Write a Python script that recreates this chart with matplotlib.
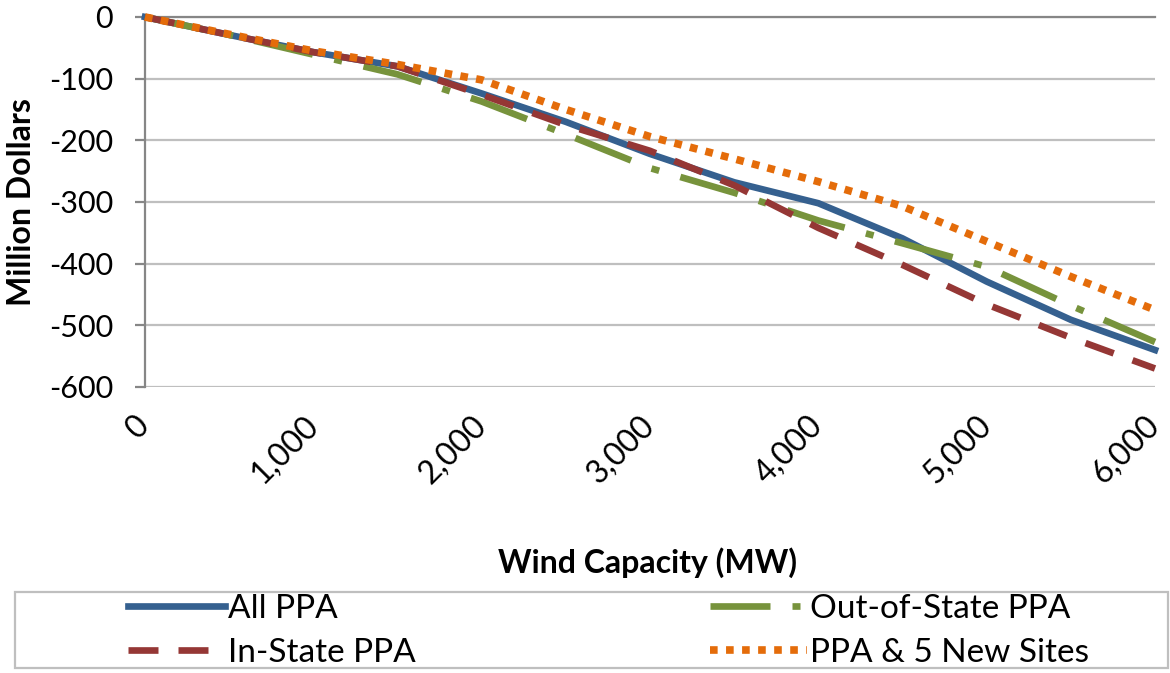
import matplotlib.pyplot as plt
import matplotlib.patches as mpatches
from matplotlib import rcParams
from matplotlib.ticker import FuncFormatter

rcParams['font.family'] = ['Lato', 'DejaVu Sans']
rcParams['axes.unicode_minus'] = False

# data (million dollars vs MW)
capacity = [0, 500, 1000, 1500, 2000, 2500, 3000, 3500, 4000, 4500, 5000, 5500, 6000]
all_ppa = [0, -29, -57, -80, -124, -170, -222, -268, -302, -359, -429, -491, -540]
in_state = [0, -29, -57, -80, -126, -175, -217, -273, -342, -402, -466, -520, -570]
out_state = [0, -29, -61, -93, -137, -190, -245, -285, -330, -367, -405, -468, -527]
new_sites = [0, -28, -55, -77, -102, -150, -194, -230, -267, -307, -364, -421, -475]

x_ticks = [0, 1000, 2000, 3000, 4000, 5000, 6000]
y_ticks = [0, -100, -200, -300, -400, -500, -600]

fig = plt.figure(figsize=(11.7, 6.73), dpi=100)
ax = fig.add_axes([145/1170, 1 - 387/673, 1010/1170, 370/673])

lw = 4.8
ax.plot(capacity, all_ppa, color='#35608F', lw=lw, label='All PPA', clip_on=False, zorder=3)
ax.plot(capacity, out_state, color='#77933C', lw=lw, linestyle=(0, (9, 3.3, 1.2, 3.3)),
        dash_capstyle='butt', label='Out-of-State PPA', clip_on=False, zorder=3)
ax.plot(capacity, in_state, color='#953735', lw=lw, linestyle=(0, (4.5, 3)),
        dash_capstyle='butt', label='In-State PPA', clip_on=False, zorder=3)
ax.plot(capacity, new_sites, color='#E46C0A', lw=5.5, linestyle=(0, (1, 1.1)),
        dash_capstyle='butt', label='PPA & 5 New Sites', clip_on=False, zorder=4)

ax.set_xlim(0, 6000)
ax.set_ylim(-600, 0)
ax.set_yticks(y_ticks)
ax.set_xticks(x_ticks)
ax.xaxis.set_major_formatter(FuncFormatter(lambda v, p: f'{int(v):,}'))

ax.grid(axis='y', color='#BFBFBF', lw=1.6)
ax.set_axisbelow(True)
for s in ['right', 'bottom']:
    ax.spines[s].set_visible(False)
ax.spines['top'].set_color('#868686')
ax.spines['top'].set_linewidth(1.6)
ax.spines['left'].set_color('#868686')
ax.spines['left'].set_linewidth(1.6)

ax.tick_params(axis='y', length=7, width=1.6, color='#868686', labelsize=22, pad=16)
ax.tick_params(axis='x', length=0, labelsize=23, pad=24)
plt.setp(ax.get_xticklabels(), rotation=45, ha='right', va='center', rotation_mode='anchor')

fig.text(22/1170, 1 - 202/673, 'Million Dollars', fontsize=23, fontweight='bold',
         rotation=90, ha='center', va='center')
fig.text(647/1170, 1 - 563/673, 'Wind Capacity (MW)', fontsize=23, fontweight='bold',
         ha='center', va='center')

# legend box
fig.patches.append(mpatches.Rectangle((15/1170, 1 - 668/673), 1153/1170, 76/673,
                                      transform=fig.transFigure, fill=False,
                                      edgecolor='#BFBFBF', lw=1.6))
handles, labels = ax.get_legend_handles_labels()
leg_kw = dict(frameon=False, fontsize=24, loc='center left', handlelength=2.9,
              handletextpad=0.1, labelspacing=0.42, borderaxespad=0, borderpad=0)
fig.legend([handles[0], handles[2]], [labels[0], labels[2]],
           bbox_to_anchor=(128/1170, 1 - 631/673), **leg_kw)
fig.legend([handles[1], handles[3]], [labels[1], labels[3]],
           bbox_to_anchor=(710/1170, 1 - 631/673), **leg_kw)

plt.savefig('out.png', dpi=100, facecolor='white')
plt.close()
